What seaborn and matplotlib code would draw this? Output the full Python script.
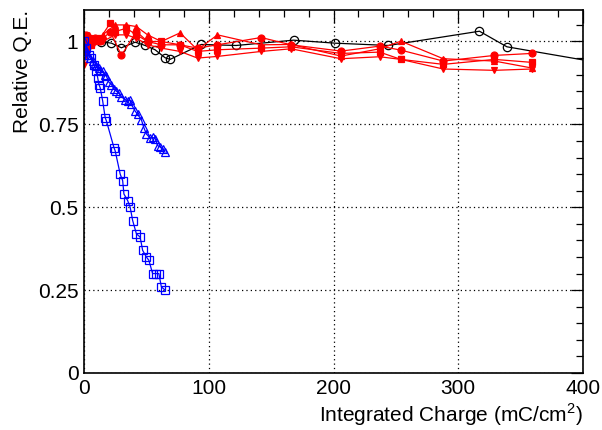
import numpy as np
import pandas as pd
import matplotlib
matplotlib.use("Agg")
import matplotlib.pyplot as plt
import seaborn as sns
from matplotlib.ticker import MultipleLocator, FixedLocator

# ---------------- data ----------------
blue_sq_x = [0, 2, 4, 6, 8, 10, 11, 12, 13, 15, 17, 18, 24, 25, 29, 31, 32, 35, 37, 39, 42, 45, 47, 50, 52, 55, 58, 60, 62, 65]
blue_sq_y = [1.0, 0.98, 0.96, 0.95, 0.93, 0.91, 0.89, 0.87, 0.86, 0.82, 0.77, 0.76, 0.68, 0.67, 0.60, 0.58, 0.54, 0.52, 0.50, 0.46, 0.42, 0.41, 0.37, 0.35, 0.34, 0.30, 0.30, 0.30, 0.26, 0.25]

blue_tr_x = [0, 1, 2, 3, 5, 7, 8, 10, 12, 13, 15, 17, 18, 20, 22, 24, 26, 28, 30, 33, 35, 37, 38, 41, 43, 46, 48, 50, 53, 55, 57, 59, 61, 63, 65]
blue_tr_y = [1.0, 0.98, 0.97, 0.96, 0.95, 0.94, 0.93, 0.925, 0.92, 0.915, 0.91, 0.90, 0.895, 0.877, 0.87, 0.857, 0.85, 0.845, 0.833, 0.825, 0.82, 0.823, 0.81, 0.79, 0.78, 0.764, 0.74, 0.721, 0.709, 0.711, 0.707, 0.686, 0.682, 0.676, 0.666]

black_x = [0, 5, 14, 22, 30, 41, 49, 57, 65, 69, 94, 122, 168, 201, 244, 317, 339, 430]
black_y = [1.0, 1.0, 0.999, 0.995, 0.981, 0.998, 0.988, 0.975, 0.951, 0.946, 0.991, 0.988, 1.004, 0.995, 0.988, 1.031, 0.984, 0.925]

red_circ_x = [0, 2, 4, 6, 9, 13, 21, 30, 42, 51, 62, 77, 91, 107, 142, 166, 206, 237, 254, 288, 329, 359]
red_circ_y = [1.0, 1.02, 0.99, 1.0, 1.01, 1.0, 1.03, 0.958, 1.03, 1.0, 0.99, 0.99, 0.98, 0.99, 1.012, 0.99, 0.971, 0.986, 0.974, 0.941, 0.958, 0.964]

red_sq_x = [0, 2, 4, 6, 9, 13, 21, 25, 34, 42, 51, 62, 77, 91, 107, 142, 166, 206, 237, 254, 288, 329, 359]
red_sq_y = [0.97, 1.0, 1.01, 0.99, 1.0, 1.01, 1.055, 1.03, 1.04, 1.02, 1.0, 1.0, 0.99, 0.97, 0.975, 0.98, 0.984, 0.964, 0.968, 0.946, 0.931, 0.946, 0.937]

red_tu_x = [0, 2, 4, 7, 10, 15, 25, 34, 42, 51, 62, 77, 91, 107, 142, 166, 206, 237, 254, 288, 329, 359]
red_tu_y = [0.98, 1.0, 1.02, 1.01, 1.0, 1.02, 1.05, 1.05, 1.045, 1.02, 1.0, 1.026, 0.975, 1.02, 0.99, 0.991, 0.956, 0.978, 1.001, 0.948, 0.941, 0.92]

red_td_x = [0, 2, 4, 7, 10, 15, 25, 34, 42, 51, 62, 77, 91, 107, 142, 166, 206, 237, 254, 288, 329, 359]
red_td_y = [0.93, 0.96, 0.98, 0.99, 1.0, 1.0, 1.02, 1.02, 1.01, 0.99, 0.98, 0.97, 0.95, 0.955, 0.97, 0.978, 0.948, 0.954, 0.946, 0.917, 0.913, 0.917]

x_ticks = [0, 100, 200, 300, 400]
x_labels = ["0", "100", "200", "300", "400"]
y_ticks = [0, 0.25, 0.5, 0.75, 1.0]
y_labels = ["0", "0.25", "0.5", "0.75", "1"]

# ---------------- style ----------------
sns.set_style("white")
plt.rcParams['font.family'] = ['Liberation Sans', 'DejaVu Sans']
plt.rcParams['mathtext.fontset'] = 'custom'
plt.rcParams['mathtext.rm'] = 'Liberation Sans'
plt.rcParams['text.color'] = 'black'
plt.rcParams['axes.labelcolor'] = 'black'
plt.rcParams['xtick.color'] = 'black'
plt.rcParams['ytick.color'] = 'black'

fig = plt.figure(figsize=(6.02, 4.30), dpi=100)
ax = fig.add_axes([84/602, 1-373/430, (583-84)/602, (373-10)/430])

def draw(xs, ys, color, marker, filled, ms):
    df = pd.DataFrame({"x": xs, "y": ys})
    sns.lineplot(data=df, x="x", y="y", ax=ax, sort=False, estimator=None,
                 color=color, linewidth=0.9, marker=marker, markersize=ms,
                 markerfacecolor=(color if filled else "none"),
                 markeredgecolor=color, markeredgewidth=0.9, clip_on=True)

draw(black_x, black_y, "black", "o", False, 6)
draw(red_circ_x, red_circ_y, "#ff0000", "o", True, 5)
draw(red_sq_x, red_sq_y, "#ff0000", "s", True, 4.5)
draw(red_tu_x, red_tu_y, "#ff0000", "^", True, 5)
draw(red_td_x, red_td_y, "#ff0000", "v", True, 5)
draw(blue_tr_x, blue_tr_y, "#0000ff", "^", False, 5.5)
draw(blue_sq_x, blue_sq_y, "#0000ff", "s", False, 6)

ax.set_xlim(0, 400)
ax.set_ylim(0, 1.095)

ax.xaxis.set_major_locator(FixedLocator(x_ticks))
ax.set_xticklabels(x_labels)
ax.yaxis.set_major_locator(FixedLocator(y_ticks))
ax.set_yticklabels(y_labels)
ax.xaxis.set_minor_locator(MultipleLocator(20))
ax.yaxis.set_minor_locator(MultipleLocator(0.05))

ax.tick_params(which="both", direction="in", top=True, right=True, labelsize=15,
               colors="black", labelcolor="black")
ax.tick_params(which="major", length=9, width=0.9, pad=4)
ax.tick_params(which="minor", length=5, width=0.9)

ax.grid(True, which="major", linestyle=(0, (1, 2.5)), color="black", linewidth=0.9)
for s in ax.spines.values():
    s.set_linewidth(1.2)
    s.set_color("black")

ax.set_xlabel("Integrated Charge (mC/cm$^2$)", fontsize=15, loc="right", labelpad=3, color="black")
ax.set_ylabel("Relative Q.E.", fontsize=15, loc="top", labelpad=4, color="black")

fig.savefig("out.png", dpi=100)
